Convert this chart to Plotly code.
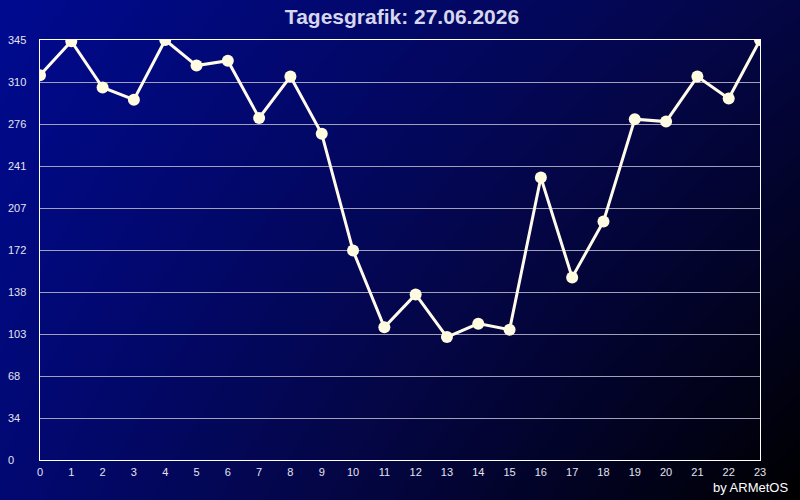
import plotly.graph_objects as go

# hourly values
hours = list(range(24))
values = [316, 344, 306, 296, 345, 324, 328, 281, 315, 268, 172, 109,
          136, 101, 112, 107, 232, 150, 196, 280, 278, 315, 297, 345]

y_tick_vals = [0, 34.5, 69, 103.5, 138, 172.5, 207, 241.5, 276, 310.5, 345]
y_tick_text = ["0", "34", "68", "103", "138", "172", "207", "241", "276", "310", "345"]

title_text = "Tagesgrafik: 27.06.2026"
credit_text = "by ARMetOS"

font_family = "Liberation Sans, Arial, sans-serif"

fig = go.Figure()

# background gradient: blue top-left fading to black bottom-right
fig.add_trace(go.Heatmap(
    x=[0, 1], y=[0, 1],
    z=[[0.78, 0.0], [1.0, 0.45]],
    zsmooth="best",
    colorscale=[[0, "#000000"], [0.5, "#04064a"], [1, "#000a90"]],
    zmin=0, zmax=1,
    showscale=False,
    hoverinfo="skip",
    xaxis="x", yaxis="y",
))

fig.add_trace(go.Scatter(
    x=hours, y=values,
    mode="lines+markers",
    line=dict(color="#fffbe8", width=3),
    marker=dict(size=12, color="#fffbe0"),
    xaxis="x2", yaxis="y2",
    hoverinfo="x+y",
))

annotations = []
for v, t in zip(y_tick_vals, y_tick_text):
    annotations.append(dict(
        x=6 / 800, y=v, xref="paper", yref="y2",
        text=t, showarrow=False, xanchor="left", yanchor="middle",
        font=dict(family=font_family, size=11, color="#e4e4f2"),
    ))
annotations.append(dict(
    x=790 / 800, y=13 / 500, xref="paper", yref="paper",
    text=credit_text, showarrow=False, xanchor="right", yanchor="middle",
    font=dict(family=font_family, size=13, color="#ffffff"),
))

fig.update_layout(
    width=800, height=500,
    margin=dict(l=0, r=0, t=0, b=0),
    paper_bgcolor="#000000",
    plot_bgcolor="rgba(0,0,0,0)",
    showlegend=False,
    title=dict(
        text=f"<b>{title_text}</b>", x=402 / 800, xanchor="center",
        y=1 - 17 / 500, yanchor="middle", automargin=False,
        font=dict(family=font_family, size=21, color="#d6d6ee"),
    ),
    xaxis=dict(domain=[0, 1], range=[0, 1], visible=False, fixedrange=True,
               automargin=False),
    yaxis=dict(domain=[0, 1], range=[0, 1], visible=False, fixedrange=True,
               automargin=False),
    xaxis2=dict(
        domain=[40 / 800, 760 / 800], range=[0, 23], anchor="y2",
        automargin=False,
        tickvals=hours, ticktext=[str(h) for h in hours],
        ticks="outside", ticklen=2, tickcolor="rgba(0,0,0,0)",
        showgrid=False, zeroline=False,
        showline=True, linecolor="#ffffff", linewidth=1, mirror=True,
        tickfont=dict(family=font_family, size=11, color="#e4e4f2"),
    ),
    yaxis2=dict(
        domain=[40 / 500, 460 / 500], range=[0, 345], anchor="x2",
        automargin=False,
        tickvals=y_tick_vals, showticklabels=False,
        showgrid=True, gridcolor="#a0a0b8", gridwidth=1, zeroline=False,
        showline=True, linecolor="#ffffff", linewidth=1, mirror=True,
    ),
    annotations=annotations,
)

# drop the browser's default page margin so the 800x500 figure fills the window
fig.write_html(
    "out.html",
    config={"displayModeBar": False},
    post_script="document.body.style.margin='0';document.body.style.overflow='hidden';",
)
